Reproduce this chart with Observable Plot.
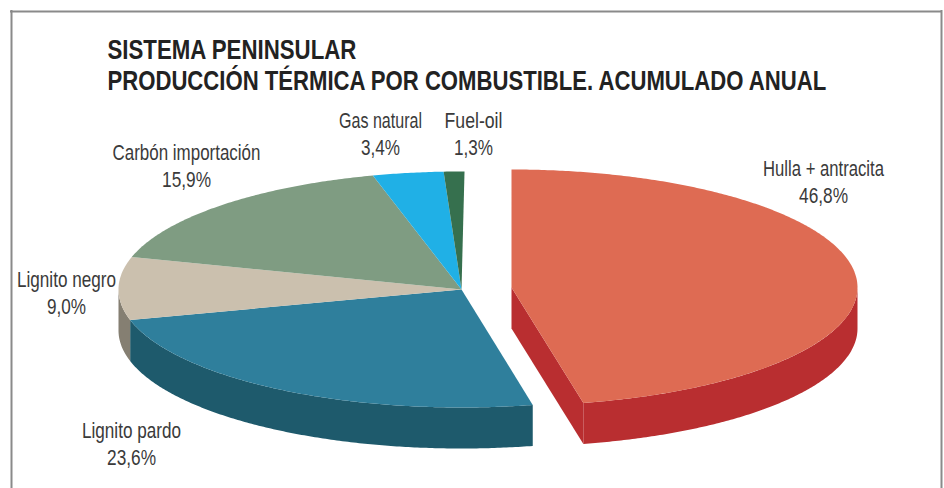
<!DOCTYPE html>
<html>
<head>
<meta charset="utf-8">
<script src="https://cdn.jsdelivr.net/npm/d3@7"></script>
<script src="https://cdn.jsdelivr.net/npm/@observablehq/plot@0.6"></script>
<style>
html,body{margin:0;padding:0;background:#fff}
svg{display:block}
</style>
</head>
<body>
<div id="chart"></div>
<script>
const titleLines = ["SISTEMA PENINSULAR", "PRODUCCIÓN TÉRMICA POR COMBUSTIBLE. ACUMULADO ANUAL"];
const fuels = ["Hulla + antracita", "Lignito pardo", "Lignito negro", "Carbón importación", "Gas natural", "Fuel-oil"];
const labelShares = [46.8, 23.6, 9.0, 15.9, 3.4, 1.3];
// Slice sizes as they were actually drawn in the picture (percent of the turn).
const drawnShares = [46.67, 24.17, 8.6, 16.4, 3.33, 0.97];
const topColors = ["#DE6B53", "#2F7F9C", "#CBC0AE", "#7F9C82", "#20B0E6", "#36704E"];
const sideColors = ["#B92E30", "#1E5A6C", "#857F72", "#5F7A62", "#1A8DB8", "#2A5A3E"];

// --- pie geometry (not data)
const W = 944, H = 488;
const RY = 118, DEPTH = 41;
const mainCenter = [461, 289, 343], explodedCenter = [511, 287, 346]; // cx, cy, rx
const rad = d => d * Math.PI / 180;
const rim = (c, a, dz = 0) => ({x: c[0] + c[2] * Math.sin(rad(a)), y: c[1] - RY * Math.cos(rad(a)) + dz});
const arc = (c, a0, a1, dz = 0) => {
  const n = Math.max(2, Math.ceil(Math.abs(a1 - a0) * 2));
  return d3.range(n + 1).map(i => rim(c, a0 + (a1 - a0) * i / n, dz));
};

let cum = 0;
const slices = fuels.map((fuel, i) => {
  const a0 = cum * 3.6;
  cum += drawnShares[i];
  return {fuel, i, a0, a1: cum * 3.6, c: i === 0 ? explodedCenter : mainCenter};
});

const points = [];
const push = (part, pts) => pts.forEach(p => points.push({...p, part}));
const sideKey = i => fuels[i] + " (lado)";
const cutKey = i => fuels[i] + " (corte)";

// Walls: only the front half of the rim shows, plus the cut faces of the split.
for (const s of slices) {
  const from = Math.max(s.a0, 90), to = Math.min(s.a1, 270);
  if (to > from) push(sideKey(s.i), [...arc(s.c, from, to), ...arc(s.c, to, from, DEPTH)]);
}
const red = slices[0];
const apex = {x: red.c[0], y: red.c[1]};
const redEnd = rim(red.c, red.a1);
push(cutKey(0), [apex, redEnd, {x: redEnd.x, y: redEnd.y + DEPTH}, {x: apex.x, y: apex.y + DEPTH}]);
// Tops
for (const s of slices) push(s.fuel, [{x: s.c[0], y: s.c[1]}, ...arc(s.c, s.a0, s.a1)]);

const partDomain = [...fuels.map((_, i) => sideKey(i)), cutKey(0), ...fuels];
const partRange = [...sideColors, sideColors[0], ...topColors];

const comma = v => v.toFixed(1).replace(".", ",") + "%";
const labelSpot = {
  "Hulla + antracita": [823, 168],
  "Lignito pardo": [131, 430],
  "Lignito negro": [66, 279],
  "Carbón importación": [186, 152],
  "Gas natural": [380, 120],
  "Fuel-oil": [473, 120]
};
const labels = fuels.flatMap((fuel, i) => [
  {x: labelSpot[fuel][0], y: labelSpot[fuel][1], t: fuel},
  {x: labelSpot[fuel][0], y: labelSpot[fuel][1] + 27, t: comma(labelShares[i])}
]);

const FONT = "'Liberation Sans',sans-serif";
const titleMark = (line, dy) => Plot.text([line], {
  frameAnchor: "top-left", dx: 107, dy, text: d => d, fill: "#222",
  fontFamily: FONT, fontSize: 27, fontWeight: 700, lineAnchor: "top", textAnchor: "start"
});

const plot = Plot.plot({
  width: W, height: H,
  margin: 0,
  style: {background: "#fff"},
  x: {domain: [0, W], range: [0, W], axis: null},
  y: {domain: [0, H], range: [0, H], axis: null},
  color: {domain: partDomain, range: partRange},
  marks: [
    Plot.ruleX([11, 941], {stroke: "#8a8a8a", strokeWidth: 2, y1: 10, y2: H}),
    Plot.ruleY([11], {stroke: "#8a8a8a", strokeWidth: 2, x1: 10, x2: 942}),
    Plot.line(points, {x: "x", y: "y", z: "part", fill: "part", stroke: "none"}),
    Plot.text(labels, {
      x: "x", y: "y", text: "t", fill: "#3a3a3a",
      fontFamily: FONT, fontSize: 22, textAnchor: "middle", lineAnchor: "middle"
    }),
    titleMark(titleLines[0], 39),
    titleMark(titleLines[1], 70)
  ]
});
document.getElementById("chart").append(plot);

// The reference uses a condensed face: squeeze each text to its width in the picture.
const textWidths = new Map([
  [titleLines[0], 249], [titleLines[1], 719],
  ["Hulla + antracita", 121], ["46,8%", 49],
  ["Gas natural", 83], ["3,4%", 39],
  ["Fuel-oil", 58], ["1,3%", 39],
  ["Carbón importación", 148], ["15,9%", 49],
  ["Lignito negro", 99], ["9,0%", 39],
  ["Lignito pardo", 99], ["23,6%", 49]
]);
d3.select(plot).selectAll("text").each(function () {
  const w = textWidths.get(this.textContent);
  if (w) {
    const s = w / this.getComputedTextLength();
    const t = this.getAttribute("transform") || "";
    this.setAttribute("transform", `${t} scale(${s},1)`.trim());
  }
});
</script>
</body>
</html>
